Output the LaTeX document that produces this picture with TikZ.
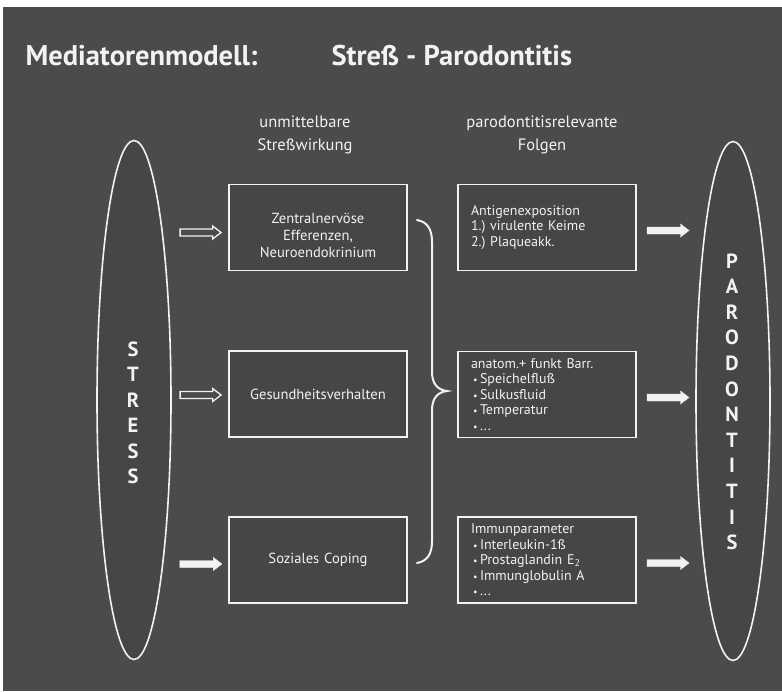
\documentclass[tikz,border=0pt]{standalone}
\usepackage{fontspec}
\setmainfont{PT Sans}
\usepackage{tikz}
\usetikzlibrary{shapes.geometric, shapes.arrows, positioning}
\definecolor{slide}{HTML}{4B4B4B}
\definecolor{slideinner}{HTML}{464646}
\definecolor{chalk}{HTML}{F2F2F2}
\newcommand{\bul}{\makebox[9pt][c]{\fontsize{10}{10}\selectfont\textbullet}}
\frenchspacing
\tikzset{%
	every box/.style={
		rectangle,
		draw=chalk,
		line width=1.6pt,
		fill=slideinner,
		text=chalk,
		minimum width=178pt,
		minimum height=86pt,
		inner sep=0pt
	},
	box left/.style={
		align=center,
		text width=164pt,
		font=\fontsize{14.6}{17}\selectfont
	},
	box right/.style={
		align=left,
		text width=152pt,
		font=\fontsize{14}{15.5}\selectfont
	},
	pillar/.style={
		ellipse,
		draw=chalk,
		line width=1.6pt,
		fill=slideinner,
		minimum width=74pt,
		minimum height=519pt,
		inner sep=0pt
	},
	letter/.style={
		text=chalk,
		inner sep=0pt,
		font=\fontsize{20.5}{20}\selectfont\bfseries
	},
	hollow arrow/.style={
		single arrow,
		draw=chalk,
		line width=1.3pt,
		fill=slide,
		inner sep=2.7pt,
		minimum height=41pt,
		minimum width=13pt,
		single arrow head extend=3pt,
		single arrow tip angle=75
	},
	solid arrow/.style={
		single arrow,
		draw=chalk,
		fill=chalk,
		line width=0.4pt,
		inner sep=3.3pt,
		minimum height=42pt,
		minimum width=13pt,
		single arrow head extend=3pt,
		single arrow tip angle=75
	},
}

\begin{document}
\begin{tikzpicture}[x=1pt, y=-1pt]
			
			\useasboundingbox (0,0) rectangle (782,691);
			\fill[white] (0,0) rectangle (782,691);
			\fill[slide] (3,7) rectangle (782,691);
			
			\node [anchor=base west, text=chalk, font=\fontsize{28.5}{34}\selectfont\bfseries] (title-model) at (22,65) {Mediatorenmodell:};
			\node [anchor=base west, text=chalk, font=\fontsize{28.5}{34}\selectfont\bfseries] (title-topic) at (328,65) {Streß - Parodontitis};
			
			\node [pillar] (stress) at (134,400) {};
			\node [pillar] (parodontitis) at (733,401) {};
			
			\foreach \l [count=\i] in {S,T,R,E,S,S}
			\node [letter] (stress-\i) at (133,324+\i*25.4) {\l};
			
			\foreach \l [count=\i] in {P,A,R,O,D,O,N,T,I,T,I,S}
			\node [letter] (parodontitis-\i) at (732,235.4+\i*25.6) {\l};
			
			\node [align=center, text=chalk, font=\fontsize{16.5}{23}\selectfont] (head-effect) at (305,135) {unmittelbare\\Streßwirkung};
			\node [align=center, text=chalk, font=\fontsize{16.5}{23}\selectfont] (head-result) at (542,135) {parodontitisrelevante\\Folgen};
			
			\node [every box/.try, box left/.try] (efferent) at (318,227.5) {\strut\\[-3pt]Zentralnervöse\\Efferenzen,\\Neuroendokrinium};
			\node [every box/.try, box left/.try] (health) at (318,394) {Gesundheitsverhalten};
			\node [every box/.try, box left/.try] (coping) at (318,560) {Soziales Coping};
			
			\node [every box/.try, box right/.try] (antigen) at (547,227.5) {Antigenexposition\\1.) virulente Keime\\2.) Plaqueakk.};
			\node [every box/.try, box right/.try] (barrier) at (547,394.5) {anatom.+ funkt Barr.\\\bul Speichelfluß\\\bul Sulkusfluid\\\bul Temperatur\\\bul ...};
			\node [every box/.try, box right/.try] (immune) at (547,560) {Immunparameter\\\bul Interleukin-1ß\\\bul Prostaglandin E\textsubscript{2}\\\bul Immunglobulin A\\\bul ...};
			
			\node [hollow arrow, left=6pt of efferent, yshift=-5pt] (in-efferent) {};
			\node [hollow arrow, left=6pt of health, yshift=-1pt] (in-health) {};
			\node [solid arrow, left=6pt of coping, yshift=-4pt] (in-coping) {};
			
			\foreach \b in {antigen, barrier, immune}
			\node [solid arrow, right=10pt of \b, yshift=-3pt] (out-\b) {};
			
			% brace collecting the three stress effects
			\draw [chalk, line width=2pt, line cap=round]
			(417,220) .. controls (428,222) and (432,230) .. (432,242) -- (432,372)
			.. controls (432,384) and (438,390) .. (447,391)
			.. controls (438,392) and (432,398) .. (432,410) -- (432,541)
			.. controls (432,553) and (428,561) .. (417,563);
			
		\end{tikzpicture}
\end{document}
